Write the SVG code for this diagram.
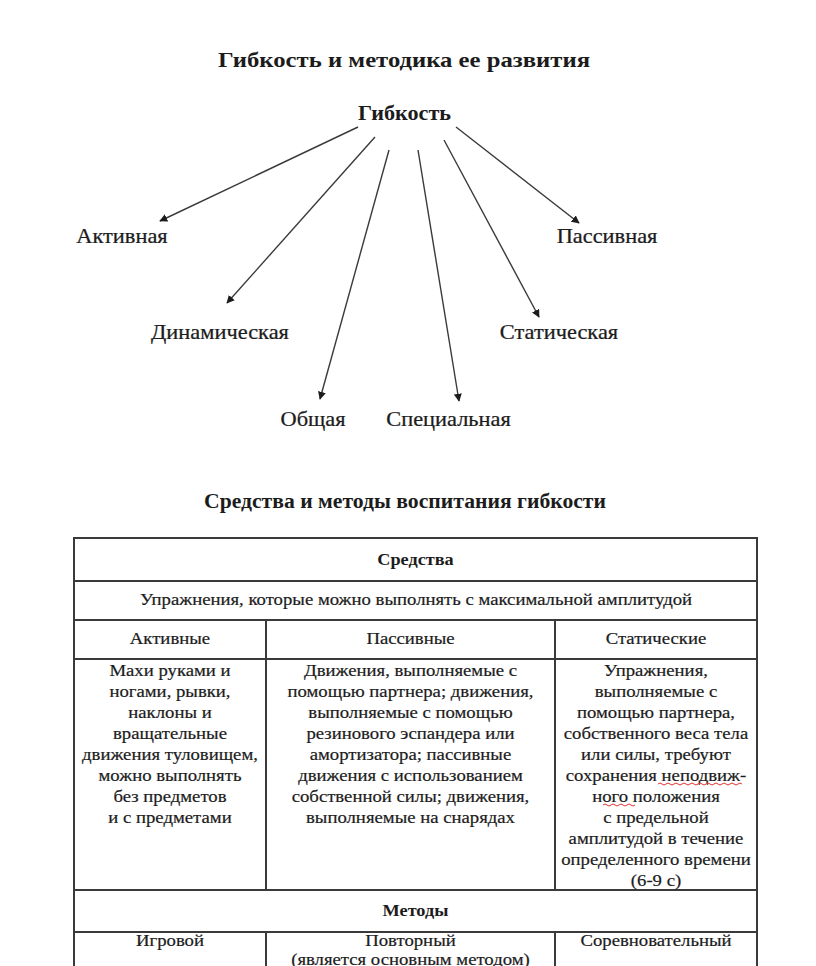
<svg xmlns="http://www.w3.org/2000/svg" width="816" height="966" viewBox="0 0 816 966">
<style>
text{font-family:"Liberation Serif","Times New Roman",serif;fill:#1c1c1c;text-anchor:middle}
.t{font-size:22px;font-weight:bold}
.root{font-size:20px;font-weight:bold}
.leaf{font-size:20px;stroke:#1c1c1c;stroke-width:0.25}
.h{font-size:16px;font-weight:bold}
.c{font-size:16px;stroke:#1c1c1c;stroke-width:0.2}
.edge{stroke:#3a3a3a;stroke-width:1.4;fill:none;marker-end:url(#ah)}
.grid{stroke:#3a3a3a;stroke-width:2;fill:none}
</style>
<defs>
<marker id="ah" viewBox="0 0 10 10" refX="9" refY="5" markerWidth="8" markerHeight="8" orient="auto" markerUnits="userSpaceOnUse">
<path d="M0,0 L10,5 L0,10 z" fill="#1c1c1c"/>
</marker>
</defs>
<rect width="816" height="966" fill="#fff"/>
<text class="t" x="404" y="67" textLength="372" lengthAdjust="spacingAndGlyphs">Гибкость и методика ее развития</text>
<g id="root"><text class="root" x="404.5" y="120" textLength="93" lengthAdjust="spacingAndGlyphs">Гибкость</text></g>
<g id="n-active"><text class="leaf" x="122" y="243" transform="matrix(1.12,0,0,1,-14.64,0)">Активная</text></g>
<g id="n-passive"><text class="leaf" x="607" y="243" transform="matrix(1.12,0,0,1,-72.84,0)">Пассивная</text></g>
<g id="n-dynamic"><text class="leaf" x="220" y="339" transform="matrix(1.12,0,0,1,-26.4,0)">Динамическая</text></g>
<g id="n-static"><text class="leaf" x="559" y="339" transform="matrix(1.12,0,0,1,-67.08,0)">Статическая</text></g>
<g id="n-general"><text class="leaf" x="313" y="426" transform="matrix(1.12,0,0,1,-37.56,0)">Общая</text></g>
<g id="n-special"><text class="leaf" x="448.5" y="426" transform="matrix(1.12,0,0,1,-53.82,0)">Специальная</text></g>
<g id="connectors">
<line class="edge" x1="358" y1="127" x2="160" y2="221"/>
<line class="edge" x1="375" y1="137" x2="227" y2="303"/>
<line class="edge" x1="389" y1="150" x2="320" y2="399"/>
<line class="edge" x1="418" y1="150" x2="459" y2="401"/>
<line class="edge" x1="444" y1="140" x2="539" y2="317"/>
<line class="edge" x1="456" y1="127" x2="579" y2="223"/>
</g>
<text class="root" x="405" y="508" font-size="21" textLength="402" lengthAdjust="spacingAndGlyphs">Средства и методы воспитания гибкости</text>
<g id="table">
<rect class="grid" x="74" y="538" width="683" height="440"/>
<line class="grid" x1="74" y1="581" x2="757" y2="581"/>
<line class="grid" x1="74" y1="620" x2="757" y2="620"/>
<line class="grid" x1="74" y1="659" x2="757" y2="659"/>
<line class="grid" x1="74" y1="890" x2="757" y2="890"/>
<line class="grid" x1="74" y1="932" x2="757" y2="932"/>
<line class="grid" x1="266" y1="620" x2="266" y2="890"/>
<line class="grid" x1="555" y1="620" x2="555" y2="890"/>
<line class="grid" x1="266" y1="932" x2="266" y2="966"/>
<line class="grid" x1="555" y1="932" x2="555" y2="966"/>
<g transform="matrix(1.14,0,0,1,-58.17,0)">
<text class="h" x="415.5" y="565">Средства</text>
<text class="h" x="415.5" y="916">Методы</text>
</g>
<text class="c" x="416" y="605" transform="matrix(1.17,0,0,1,-70.72,0)">Упражнения, которые можно выполнять с максимальной амплитудой</text>
<g transform="matrix(1.17,0,0,1,-28.9,0)">
<text class="c" x="170" y="644">Активные</text>
<text class="c" x="170" y="676">Махи руками и</text>
<text class="c" x="170" y="697">ногами, рывки,</text>
<text class="c" x="170" y="718">наклоны и</text>
<text class="c" x="170" y="739">вращательные</text>
<text class="c" x="170" y="760">движения туловищем,</text>
<text class="c" x="170" y="781">можно выполнять</text>
<text class="c" x="170" y="802">без предметов</text>
<text class="c" x="170" y="823">и с предметами</text>
<text class="c" x="170" y="946">Игровой</text>
</g>
<g transform="matrix(1.17,0,0,1,-69.785,0)">
<text class="c" x="410.5" y="644">Пассивные</text>
<text class="c" x="410.5" y="676">Движения, выполняемые с</text>
<text class="c" x="410.5" y="697">помощью партнера; движения,</text>
<text class="c" x="410.5" y="718">выполняемые с помощью</text>
<text class="c" x="410.5" y="739">резинового эспандера или</text>
<text class="c" x="410.5" y="760">амортизатора; пассивные</text>
<text class="c" x="410.5" y="781">движения с использованием</text>
<text class="c" x="410.5" y="802">собственной силы; движения,</text>
<text class="c" x="410.5" y="823">выполняемые на снарядах</text>
<text class="c" x="410.5" y="946">Повторный</text>
<text class="c" x="410.5" y="965">(является основным методом)</text>
</g>
<g transform="matrix(1.17,0,0,1,-111.52,0)">
<text class="c" x="656" y="644">Статические</text>
<text class="c" x="656" y="676">Упражнения,</text>
<text class="c" x="656" y="697">выполняемые с</text>
<text class="c" x="656" y="718">помощью партнера,</text>
<text class="c" x="656" y="739">собственного веса тела</text>
<text class="c" x="656" y="760">или силы, требуют</text>
<text class="c" x="656" y="781">сохранения неподвиж-</text>
<text class="c" x="656" y="802">ного положения</text>
<text class="c" x="656" y="823">с предельной</text>
<text class="c" x="656" y="844">амплитудой в течение</text>
<text class="c" x="656" y="865">определенного времени</text>
<text class="c" x="656" y="886">(6-9 с)</text>
<text class="c" x="656" y="946">Соревновательный</text>
</g>
<path d="M658,784 q2,-2 4,0 t4,0 t4,0 t4,0 t4,0 t4,0 t4,0 t4,0 t4,0 t4,0 t4,0 t4,0 t4,0 t4,0 t4,0 t4,0 t4,0 t4,0 t4,0 t4,0 t4,0 M603,805 q2,-2 4,0 t4,0 t4,0 t4,0 t4,0 t4,0 t4,0 t4,0" stroke="#d33" stroke-width="1" fill="none"/>
</g>
</svg>
